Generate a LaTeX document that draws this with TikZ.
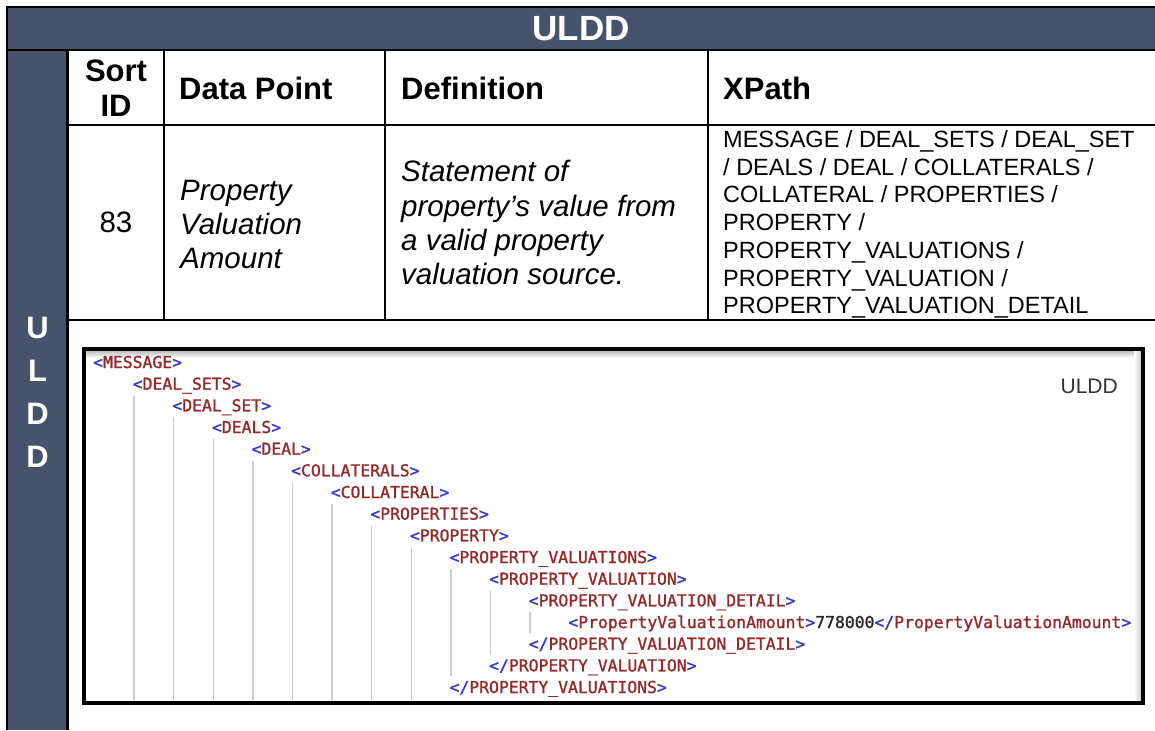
\documentclass[tikz,border=0pt]{standalone}
\usepackage{fontspec}
\setmainfont{Liberation Sans}
\newfontfamily\xmlmono[FakeBold=1.2]{DejaVu Sans Mono}
\definecolor{hdr}{RGB}{69,84,106}
\definecolor{xblue}{RGB}{55,55,200}
\definecolor{xred}{RGB}{148,40,40}
\definecolor{guidegray}{RGB}{204,204,204}
\newcommand{\xmlopen}[1]{{\color{xblue}<}{\color{xred}#1}{\color{xblue}>}}
\newcommand{\xmlclose}[1]{{\color{xblue}</}{\color{xred}#1}{\color{xblue}>}}
\begin{document}
\begin{tikzpicture}[x=1pt,y=-1pt,
  tline/.style={line width=2.6pt,black},
  hd/.style={font=\fontsize{31}{35}\selectfont\bfseries,anchor=base west,inner sep=0},
  hdc/.style={font=\fontsize{31}{35}\selectfont\bfseries,anchor=base,inner sep=0},
  dat/.style={font=\fontsize{29.5}{34}\selectfont\itshape,anchor=base west,inner sep=0},
  num/.style={font=\fontsize{29.5}{34}\selectfont,anchor=base,inner sep=0},
  xp/.style={font=\fontsize{23.5}{27.5}\selectfont,anchor=base west,inner sep=0},
  side/.style={font=\fontsize{31}{35}\selectfont\bfseries,text=white,anchor=base,inner sep=0},
  xml/.style={font=\xmlmono\fontsize{16.4}{20}\selectfont,anchor=base west,inner sep=0},
  guide/.style={line width=1.3pt,guidegray}
]
\useasboundingbox (0,0) rectangle (1155,730);
\fill[white] (0,0) rectangle (1155,730);
% header band and side column
\fill[hdr] (7,7) rectangle (1155,50);
\fill[hdr] (7,50) rectangle (67.5,730);
% table rules
\draw[tline] (7,730) -- (7,7) -- (1155,7);
\draw[tline] (7,50) -- (1155,50);
\draw[tline] (67.5,50) -- (67.5,730);
\draw[tline] (67.5,125) -- (1155,125);
\draw[tline] (67.5,320) -- (1155,320);
\draw[tline] (164,50) -- (164,320);
\draw[tline] (385,50) -- (385,320);
\draw[tline] (708,50) -- (708,320);
% title
\node[font=\fontsize{35}{40}\selectfont\bfseries,text=white,inner sep=0] (title) at (581,29) {ULDD};
% side letters
\node[side] (s1) at (37.5,338) {U};
\node[side] (s2) at (37.5,381) {L};
\node[side] (s3) at (37.5,424) {D};
\node[side] (s4) at (37.5,467) {D};
% header row
\node[hdc] (h1a) at (116,82) {Sort};
\node[hdc] (h1b) at (116,117) {ID};
\node[hd] (h2) at (179,100) {Data Point};
\node[hd] (h3) at (401,100) {Definition};
\node[hd] (h4) at (723,100) {XPath};
% data row
\node[num] (d1) at (116,232) {83};
\node[dat] (d2a) at (180,200) {Property};
\node[dat] (d2b) at (180,234) {Valuation};
\node[dat] (d2c) at (180,268) {Amount};
\node[dat] (d3a) at (401,182) {Statement of};
\node[dat] (d3b) at (401,216) {property’s value from};
\node[dat] (d3c) at (401,250) {a valid property};
\node[dat] (d3d) at (401,284) {valuation source.};
\node[xp] (x1) at (723,147.5) {MESSAGE / DEAL\_SETS / DEAL\_SET};
\node[xp] (x2) at (723,175.2) {/ DEALS / DEAL / COLLATERALS /};
\node[xp] (x3) at (723,202.9) {COLLATERAL / PROPERTIES /};
\node[xp] (x4) at (723,230.6) {PROPERTY /};
\node[xp] (x5) at (723,258.3) {PROPERTY\_VALUATIONS /};
\node[xp] (x6) at (723,286) {PROPERTY\_VALUATION /};
\node[xp] (x7) at (723,313.7) {PROPERTY\_VALUATION\_DETAIL};
% screenshot panel
\shade[top color=black!28,bottom color=white] (85,350) rectangle (1142,358);
\shade[left color=white,right color=black!22] (1134,350) rectangle (1142,702);
\draw[line width=3.5pt] (84,349) rectangle (1143,703);
% guides
\foreach \i/\ys/\ye in {1/395.7/700,2/417.3/700,3/439/700,4/460.7/700,5/482.3/700,6/504/700,7/525.7/700,8/547.3/700,9/569/676,10/590.7/655,11/612.3/633}{
  \draw[guide] ({94.5+39.6*\i},\ys) -- ({94.5+39.6*\i},\ye);
}
% xml lines
\node[xml] (t0) at (93,368) {\xmlopen{MESSAGE}};
\node[xml] (t1) at (132.6,389.67) {\xmlopen{DEAL\_SETS}};
\node[xml] (t2) at (172.2,411.33) {\xmlopen{DEAL\_SET}};
\node[xml] (t3) at (211.8,433) {\xmlopen{DEALS}};
\node[xml] (t4) at (251.4,454.67) {\xmlopen{DEAL}};
\node[xml] (t5) at (291,476.33) {\xmlopen{COLLATERALS}};
\node[xml] (t6) at (330.6,498) {\xmlopen{COLLATERAL}};
\node[xml] (t7) at (370.2,519.67) {\xmlopen{PROPERTIES}};
\node[xml] (t8) at (409.8,541.33) {\xmlopen{PROPERTY}};
\node[xml] (t9) at (449.4,563) {\xmlopen{PROPERTY\_VALUATIONS}};
\node[xml] (t10) at (489,584.67) {\xmlopen{PROPERTY\_VALUATION}};
\node[xml] (t11) at (528.6,606.33) {\xmlopen{PROPERTY\_VALUATION\_DETAIL}};
\node[xml] (t12) at (568.2,628) {\xmlopen{PropertyValuationAmount}{\color{black!85}778000}\xmlclose{PropertyValuationAmount}};
\node[xml] (t13) at (528.6,649.67) {\xmlclose{PROPERTY\_VALUATION\_DETAIL}};
\node[xml] (t14) at (489,671.33) {\xmlclose{PROPERTY\_VALUATION}};
\node[xml] (t15) at (449.4,693) {\xmlclose{PROPERTY\_VALUATIONS}};
% label inside screenshot
\node[font=\fontsize{21}{24}\selectfont,text=black!80,anchor=base east,inner sep=0] (lbl) at (1118,393) {ULDD};
\end{tikzpicture}
\end{document}
